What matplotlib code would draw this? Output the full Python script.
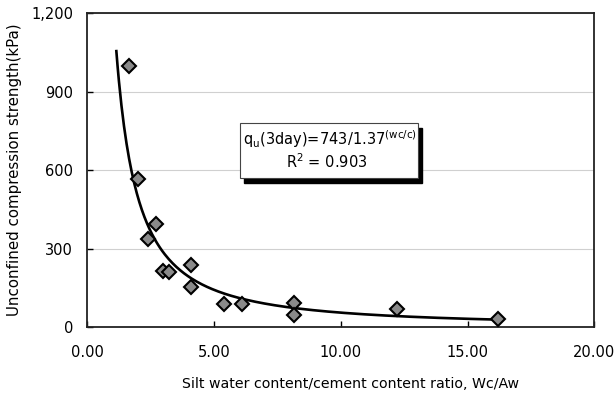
import numpy as np
import matplotlib
matplotlib.use("Agg")
import matplotlib.pyplot as plt
from matplotlib.patches import Rectangle
from matplotlib.ticker import FuncFormatter

# silt water content / cement content ratio and 3-day unconfined strength
wc_aw = [1.65, 2.00, 2.40, 2.73, 3.00, 3.23, 4.08, 4.08, 5.40, 6.10, 8.15, 8.15, 12.20, 16.20]
qu_kpa = [1000, 565, 336, 395, 216, 212, 237, 155, 89, 89, 94, 47, 69, 32]

x_ticks = [0, 5, 10, 15, 20]
y_ticks = [0, 300, 600, 900, 1200]

plt.rcParams['font.family'] = ['DejaVu Sans']

fig = plt.figure(figsize=(6.14, 3.99), dpi=100)
ax = fig.add_axes([0.142, 0.180, 0.826, 0.787])

# power trendline, fitted in log-log space like a spreadsheet trendline
x = np.array(wc_aw)
y = np.array(qu_kpa)
b, ln_a = np.polyfit(np.log(x), np.log(y), 1)
xs = np.linspace(x.min() - 0.5, x.max(), 300)
ax.plot(xs, np.exp(ln_a) * xs ** b, color='black', lw=1.9, zorder=3)

ax.plot(wc_aw, qu_kpa, linestyle='none', marker='D', markersize=7,
        markerfacecolor='#8a8a8a', markeredgecolor='black', markeredgewidth=1.5, zorder=4)

ax.set_xlim(0, 20)
ax.set_ylim(0, 1200)
ax.set_xticks(x_ticks)
ax.set_yticks(y_ticks)
ax.xaxis.set_major_formatter(FuncFormatter(lambda v, p: f'{v:.2f}'))
ax.yaxis.set_major_formatter(FuncFormatter(lambda v, p: f'{v:,.0f}'))
ax.tick_params(direction='in', length=4, width=1, labelsize=10.5, colors='black')
ax.tick_params(axis='x', pad=13)
ax.tick_params(axis='y', pad=10)
ax.grid(axis='y', color='#d0d0d0', lw=0.8)
ax.set_axisbelow(True)
for s in ax.spines.values():
    s.set_linewidth(1.3)
    s.set_color('#222222')

ax.set_xlabel('Silt water content/cement content ratio, Wc/Aw', fontsize=10.2, labelpad=12)
ax.xaxis.label.set_x(0.52)
ax.set_ylabel('Unconfined compression strength(kPa)', fontsize=10.8, labelpad=7)

# equation box with a drop shadow
bx, by, bw, bh = 0.301, 0.475, 0.351, 0.175
ax.add_patch(Rectangle((bx + 0.009, by - 0.017), bw, bh, transform=ax.transAxes,
                       facecolor='black', edgecolor='black', zorder=5))
ax.add_patch(Rectangle((bx, by), bw, bh, transform=ax.transAxes,
                       facecolor='white', edgecolor='#444444', lw=0.8, zorder=6))
ax.text(bx + bw / 2 + 0.003, by + bh * 0.70,
        r'q$_\mathregular{u}$(3day)=743/1.37$^\mathregular{(wc/c)}$',
        transform=ax.transAxes, ha='center', va='center', fontsize=10.5, zorder=7)
ax.text(bx + bw / 2 - 0.005, by + bh * 0.30, r'R$^\mathregular{2}$ = 0.903',
        transform=ax.transAxes, ha='center', va='center', fontsize=10.5, zorder=7)

fig.savefig('out.png', dpi=100)
